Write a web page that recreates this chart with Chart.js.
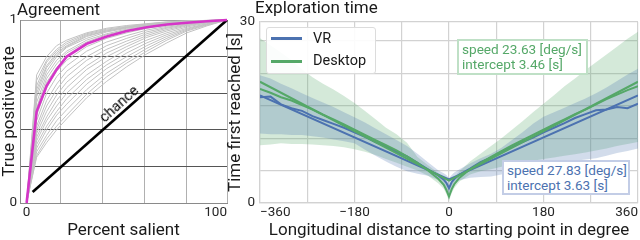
<!DOCTYPE html>
<html><head><meta charset="utf-8">
<script src="https://cdn.jsdelivr.net/npm/chart.js@4.4.1/dist/chart.umd.min.js"></script>
<style>
html,body{margin:0;padding:0;background:#fff;}
body{width:640px;height:240px;position:relative;overflow:hidden;font-family:Roboto,sans-serif;}
canvas{position:absolute;top:0;}
#cL{left:0;width:240px;height:240px;}
#cR{left:226px;width:414px;height:240px;}
.t{position:absolute;font-size:17px;line-height:17px;color:#1a1a1a;white-space:nowrap;}
#chance{position:absolute;left:119px;top:104px;font-size:14.5px;line-height:15px;color:#000;white-space:nowrap;transform:translate(-50%,-50%) rotate(-41.8deg);}
#legend{position:absolute;left:266px;top:27px;width:108px;height:45px;border:1px solid #dcdcdc;border-radius:3px;background:rgba(255,255,255,0.9);}
#legend .sw{position:absolute;left:4px;width:31px;height:2.5px;}
#legend .lt{position:absolute;left:46px;font-size:14.5px;line-height:15px;color:#1a1a1a;white-space:nowrap;}
.ann{position:absolute;box-sizing:border-box;border:2px solid;background:#fff;font-size:13.6px;line-height:14.5px;padding:1px 0 0 3px;white-space:nowrap;}
</style></head>
<body>
<canvas id="cL" width="240" height="240"></canvas>
<canvas id="cR" width="414" height="240"></canvas>
<div class="t" style="left:17px;top:1px">Agreement</div>
<div class="t" style="left:255px;top:-1px">Exploration time</div>
<div id="chance">chance</div>
<div id="legend">
  <div class="sw" id="sw0" style="top:9px"></div><div class="lt" id="lt0" style="top:3px"></div>
  <div class="sw" id="sw1" style="top:32px"></div><div class="lt" id="lt1" style="top:25px"></div>
</div>
<div class="ann" id="ann1" style="left:457px;top:39px;width:131px;height:36px;"></div>
<div class="ann" id="ann0" style="left:502px;top:160px;width:128px;height:35px;"></div>
<script>
// ---------- Left chart: Agreement ----------
const salientPct = [0, 5, 10, 15, 20, 30, 40, 50, 60, 70, 80, 90, 100];
const tprMean    = [0, .50, .64, .73, .80, .87, .91, .94, .96, .975, .985, .993, 1];
const rater01 = [0, .70, .80, .86, .89, .93, .955, .97, .98, .99, .995, .998, 1];
const rater02 = [0, .67, .78, .84, .88, .925, .95, .965, .978, .988, .994, .998, 1];
const rater03 = [0, .64, .77, .83, .87, .92, .945, .962, .975, .986, .993, .997, 1];
const rater04 = [0, .62, .75, .82, .86, .915, .94, .96, .973, .985, .992, .997, 1];
const rater05 = [0, .60, .74, .81, .855, .91, .94, .958, .972, .984, .992, .997, 1];
const rater06 = [0, .58, .72, .80, .85, .90, .935, .955, .97, .983, .991, .996, 1];
const rater07 = [0, .55, .70, .78, .83, .89, .925, .95, .967, .98, .99, .996, 1];
const rater08 = [0, .52, .68, .76, .82, .88, .92, .945, .963, .978, .989, .995, 1];
const rater09 = [0, .50, .66, .74, .80, .87, .91, .94, .96, .976, .988, .995, 1];
const rater10 = [0, .48, .63, .72, .78, .855, .90, .93, .955, .972, .986, .994, 1];
const rater11 = [0, .45, .60, .69, .75, .83, .88, .915, .945, .966, .982, .993, 1];
const rater12 = [0, .42, .56, .65, .72, .80, .86, .90, .935, .96, .978, .991, 1];
const rater13 = [0, .40, .53, .62, .69, .78, .84, .885, .925, .955, .975, .99, 1];
const rater14 = [0, .38, .50, .59, .66, .75, .82, .87, .915, .948, .972, .988, 1];
const rater15 = [0, .36, .47, .56, .63, .73, .80, .855, .905, .94, .968, .986, 1];
const rater16 = [0, .34, .45, .53, .60, .70, .775, .84, .89, .93, .962, .984, 1];
const rater17 = [0, .32, .42, .50, .57, .675, .755, .82, .875, .92, .955, .98, 1];
const rater18 = [0, .30, .40, .48, .54, .65, .735, .80, .86, .91, .95, .978, 1];
const rater19 = [0, .28, .37, .45, .51, .62, .71, .78, .845, .90, .945, .975, 1];
const rater20 = [0, .26, .35, .42, .48, .595, .69, .765, .83, .89, .94, .972, 1];
const rater21 = [0, .25, .33, .40, .46, .575, .665, .745, .815, .875, .93, .968, 1];
const raterCurves = [rater01, rater02, rater03, rater04, rater05, rater06, rater07, rater08, rater09, rater10,
  rater11, rater12, rater13, rater14, rater15, rater16, rater17, rater18, rater19, rater20, rater21];
const chanceX = [3, 100];
const chanceY = [0.06, 1];
const salientMin = -3.3, salientMax = 100;
const salientGrid = [17, 38, 59, 80];
const salientLabelled = [0, 100];
const tprTicks = [0, 0.2, 0.4, 0.6, 0.8, 1];
const tprLabelled = [0, 1];

// ---------- Right chart: Exploration time ----------
const seriesNames = ['VR', 'Desktop'];
const speedDegS = [27.83, 23.63];
const interceptS = [3.63, 3.46];
const distDeg = [-360,-340,-320,-300,-280,-260,-240,-220,-200,-180,-160,-140,-120,-100,-80,-60,-40,-20,-10,-5,
  0,5,10,20,40,60,80,100,120,140,160,180,200,220,240,260,280,300,320,340,360];
const vrMean = [16.3,16.4,15.2,14.6,14.2,13.4,12.8,12.2,11.6,10.9,10.2,9.4,8.7,7.9,7.2,6.2,5.2,4.2,3.6,3.1,
  2.3,3.2,3.7,4.4,5.3,6.3,7.0,7.9,8.6,9.4,10.1,10.9,11.6,12.3,13.1,13.7,14.3,14.4,14.8,14.6,15.3];
const deskMean = [17.6,17.0,16.3,15.8,15.1,14.4,13.6,12.9,12.1,11.3,10.5,9.7,8.9,8.1,7.2,6.2,5.0,3.7,2.8,2.0,
  1.0,2.1,2.9,3.9,5.2,6.2,7.1,8.0,8.9,9.7,10.5,11.3,12.1,12.9,13.7,14.4,15.2,16.0,16.7,17.4,18.0];
const vrHigh = [19.7,19.2,18.4,17.7,16.9,16.2,15.5,14.8,14.0,13.2,12.4,11.5,10.6,9.7,8.8,7.6,6.3,5.0,4.6,4.3,
  3.8,4.3,4.7,5.2,6.1,6.9,7.6,8.5,9.7,10.9,12.2,13.3,14.0,14.7,15.4,16.1,16.9,17.8,18.8,19.8,20.7];
const vrLow = [10.7,10.6,10.6,10.5,10.5,10.3,10.1,9.8,9.5,9.2,8.2,7.3,6.4,5.6,4.9,4.5,4.2,3.5,2.8,2.2,
  1.4,2.3,2.9,3.5,3.9,4.0,4.1,4.4,4.8,5.2,5.5,5.8,6.0,6.3,6.5,6.7,6.9,7.3,7.7,8.0,8.4];
const deskHigh = [25.4,24.3,23.2,22.0,20.6,19.4,18.4,17.5,16.5,15.4,14.2,12.9,11.6,10.6,9.3,7.1,5.8,4.6,3.9,3.2,
  2.2,3.3,4.0,4.9,6.4,7.6,8.8,10.0,11.3,12.6,14.0,15.3,16.6,18.0,19.2,20.5,21.7,22.9,24.1,25.3,26.4];
const deskLow = [8.9,9.0,9.2,9.1,9.1,9.0,8.9,8.8,8.6,8.3,7.9,7.4,6.8,6.2,5.6,5.0,4.2,3.0,2.2,1.4,
  0.3,1.5,2.3,3.3,4.4,4.9,5.2,5.6,5.9,6.2,6.5,6.8,7.0,7.3,7.5,7.8,8.1,8.4,8.8,9.1,9.4];
const fitX = [-360, 0, 360];
const vrFit = [16.57, 3.63, 16.57];
const deskFit = [18.69, 3.46, 18.69];
const distTicks = [-360, -270, -180, -90, 0, 90, 180, 270, 360];
const distLabelled = [-360, -180, 0, 180, 360];
const timeMax = 27.9;
const timeTicks = [0, 5, 10, 15, 20, 25, 27.9];
const timeTickText = ['0', '', '', '', '', '', '30'];

const BLUE = '#4c72b0', GREEN = '#55a868';
const seriesColors = [BLUE, GREEN];

Chart.defaults.font.family = 'Roboto, sans-serif';
Chart.defaults.color = '#262626';

const pts = (xs, ys) => xs.map((x, i) => ({x: x, y: ys[i]}));
const clear = 'rgba(0,0,0,0)';
const axisTitleFont = {size: 17, lineHeight: 1.1};
const tickFont = {size: 13.5, lineHeight: 1.2};

// Left chart
new Chart(document.getElementById('cL'), {
  type: 'line',
  data: {
    datasets: [
      ...raterCurves.map(r => ({data: pts(salientPct, r), borderColor: '#c2c2c2', borderWidth: 1, order: 5, clip: false})),
      {data: pts(chanceX, chanceY), borderColor: '#000', borderWidth: 2.6, order: 2, clip: false},
      {data: pts(salientPct, tprMean), borderColor: '#d535c8', borderWidth: 2.6, order: 1, clip: false}
    ]
  },
  options: {
    responsive: false, animation: false, devicePixelRatio: 1,
    layout: {padding: {top: 20, left: 0, right: 13, bottom: 0}},
    elements: {point: {radius: 0}, line: {tension: 0}},
    plugins: {legend: {display: false}, tooltip: {enabled: false}},
    scales: {
      x: {
        type: 'linear', min: salientMin, max: salientMax,
        afterBuildTicks: s => { s.ticks = [salientMin, 0, ...salientGrid, 100].map(v => ({value: v})); },
        afterFit: s => { s.height = 37; },
        ticks: {autoSkip: false, maxRotation: 0, align: 'inner', padding: 2, font: tickFont,
          callback: v => salientLabelled.includes(v) ? String(v) : ''},
        grid: {drawTicks: false, lineWidth: 1,
          color: c => (c.tick && (c.tick.value === 0 || c.tick.value === salientMin)) ? clear : '#b0b0b0'},
        border: {color: '#8a8a8a', width: 1},
        title: {display: true, text: 'Percent salient', font: axisTitleFont, color: '#1a1a1a', padding: 0}
      },
      y: {
        type: 'linear', min: 0, max: 1,
        afterBuildTicks: s => { s.ticks = tprTicks.map(v => ({value: v})); },
        afterFit: s => { s.width = 20; },
        ticks: {autoSkip: false, padding: 3, font: tickFont,
          callback: v => tprLabelled.includes(v) ? String(v) : ''},
        grid: {drawTicks: false, lineWidth: 1,
          color: c => (c.tick && c.tick.value === 1) ? '#a0a0a0' : '#555555'},
        border: {color: '#8a8a8a', width: 1},
        title: {display: true, text: 'True positive rate', font: axisTitleFont, color: '#1a1a1a', padding: 0}
      }
    }
  }
});

// Right chart
const fmtDeg = v => (v < 0 ? '\u2212' + Math.abs(v) : String(v));
new Chart(document.getElementById('cR'), {
  type: 'line',
  data: {
    datasets: [
      {data: pts(distDeg, deskHigh), fill: '+1', backgroundColor: 'rgba(85,168,104,0.25)', borderColor: clear, borderWidth: 0, order: 10},
      {data: pts(distDeg, deskLow), fill: false, borderColor: clear, borderWidth: 0, order: 10},
      {data: pts(distDeg, vrHigh), fill: '+1', backgroundColor: 'rgba(76,114,176,0.25)', borderColor: clear, borderWidth: 0, order: 9},
      {data: pts(distDeg, vrLow), fill: false, borderColor: clear, borderWidth: 0, order: 9},
      {label: seriesNames[0] + ' fit', data: pts(fitX, vrFit), borderColor: BLUE, borderWidth: 2, order: 3},
      {label: seriesNames[0], data: pts(distDeg, vrMean), borderColor: BLUE, borderWidth: 2, order: 2},
      {label: seriesNames[1] + ' fit', data: pts(fitX, deskFit), borderColor: GREEN, borderWidth: 2, order: 1},
      {label: seriesNames[1], data: pts(distDeg, deskMean), borderColor: GREEN, borderWidth: 2, order: 0}
    ]
  },
  options: {
    responsive: false, animation: false, devicePixelRatio: 1,
    layout: {padding: {top: 22, left: 0, right: 2, bottom: 0}},
    elements: {point: {radius: 0}, line: {tension: 0}},
    plugins: {legend: {display: false}, tooltip: {enabled: false}},
    scales: {
      x: {
        type: 'linear', min: -360, max: 360,
        afterBuildTicks: s => { s.ticks = distTicks.map(v => ({value: v})); },
        afterFit: s => { s.height = 37; },
        ticks: {autoSkip: false, maxRotation: 0, align: 'inner', padding: 2, font: tickFont,
          callback: v => distLabelled.includes(v) ? fmtDeg(v) : ''},
        grid: {drawTicks: false, lineWidth: 1.2, color: '#d2d2d2'},
        border: {color: '#d2d2d2', width: 1.2},
        title: {display: true, text: 'Longitudinal distance to starting point in degree', font: axisTitleFont, color: '#1a1a1a', padding: 0}
      },
      y: {
        type: 'linear', min: 0, max: timeMax,
        afterBuildTicks: s => { s.ticks = timeTicks.map(v => ({value: v})); },
        afterFit: s => { s.width = 34; },
        ticks: {autoSkip: false, padding: 5, font: tickFont,
          callback: (v, i) => timeTickText[i]},
        grid: {drawTicks: false, lineWidth: 1.2, color: '#d2d2d2'},
        border: {color: '#d2d2d2', width: 1.2},
        title: {display: true, text: 'Time first reached [s]', font: axisTitleFont, color: '#1a1a1a', padding: 0}
      }
    }
  }
});

// Legend and fit annotations (text built from the data arrays)
const annBorders = ['#c3cde6', '#bfe0c6'];
for (let i = 0; i < seriesNames.length; i++) {
  document.getElementById('sw' + i).style.background = seriesColors[i];
  document.getElementById('lt' + i).textContent = seriesNames[i];
  const a = document.getElementById('ann' + i);
  a.style.color = seriesColors[i];
  a.style.borderColor = annBorders[i];
  a.innerHTML = 'speed ' + speedDegS[i].toFixed(2) + ' [deg/s]<br>intercept ' + interceptS[i].toFixed(2) + ' [s]';
}
</script>
</body></html>
